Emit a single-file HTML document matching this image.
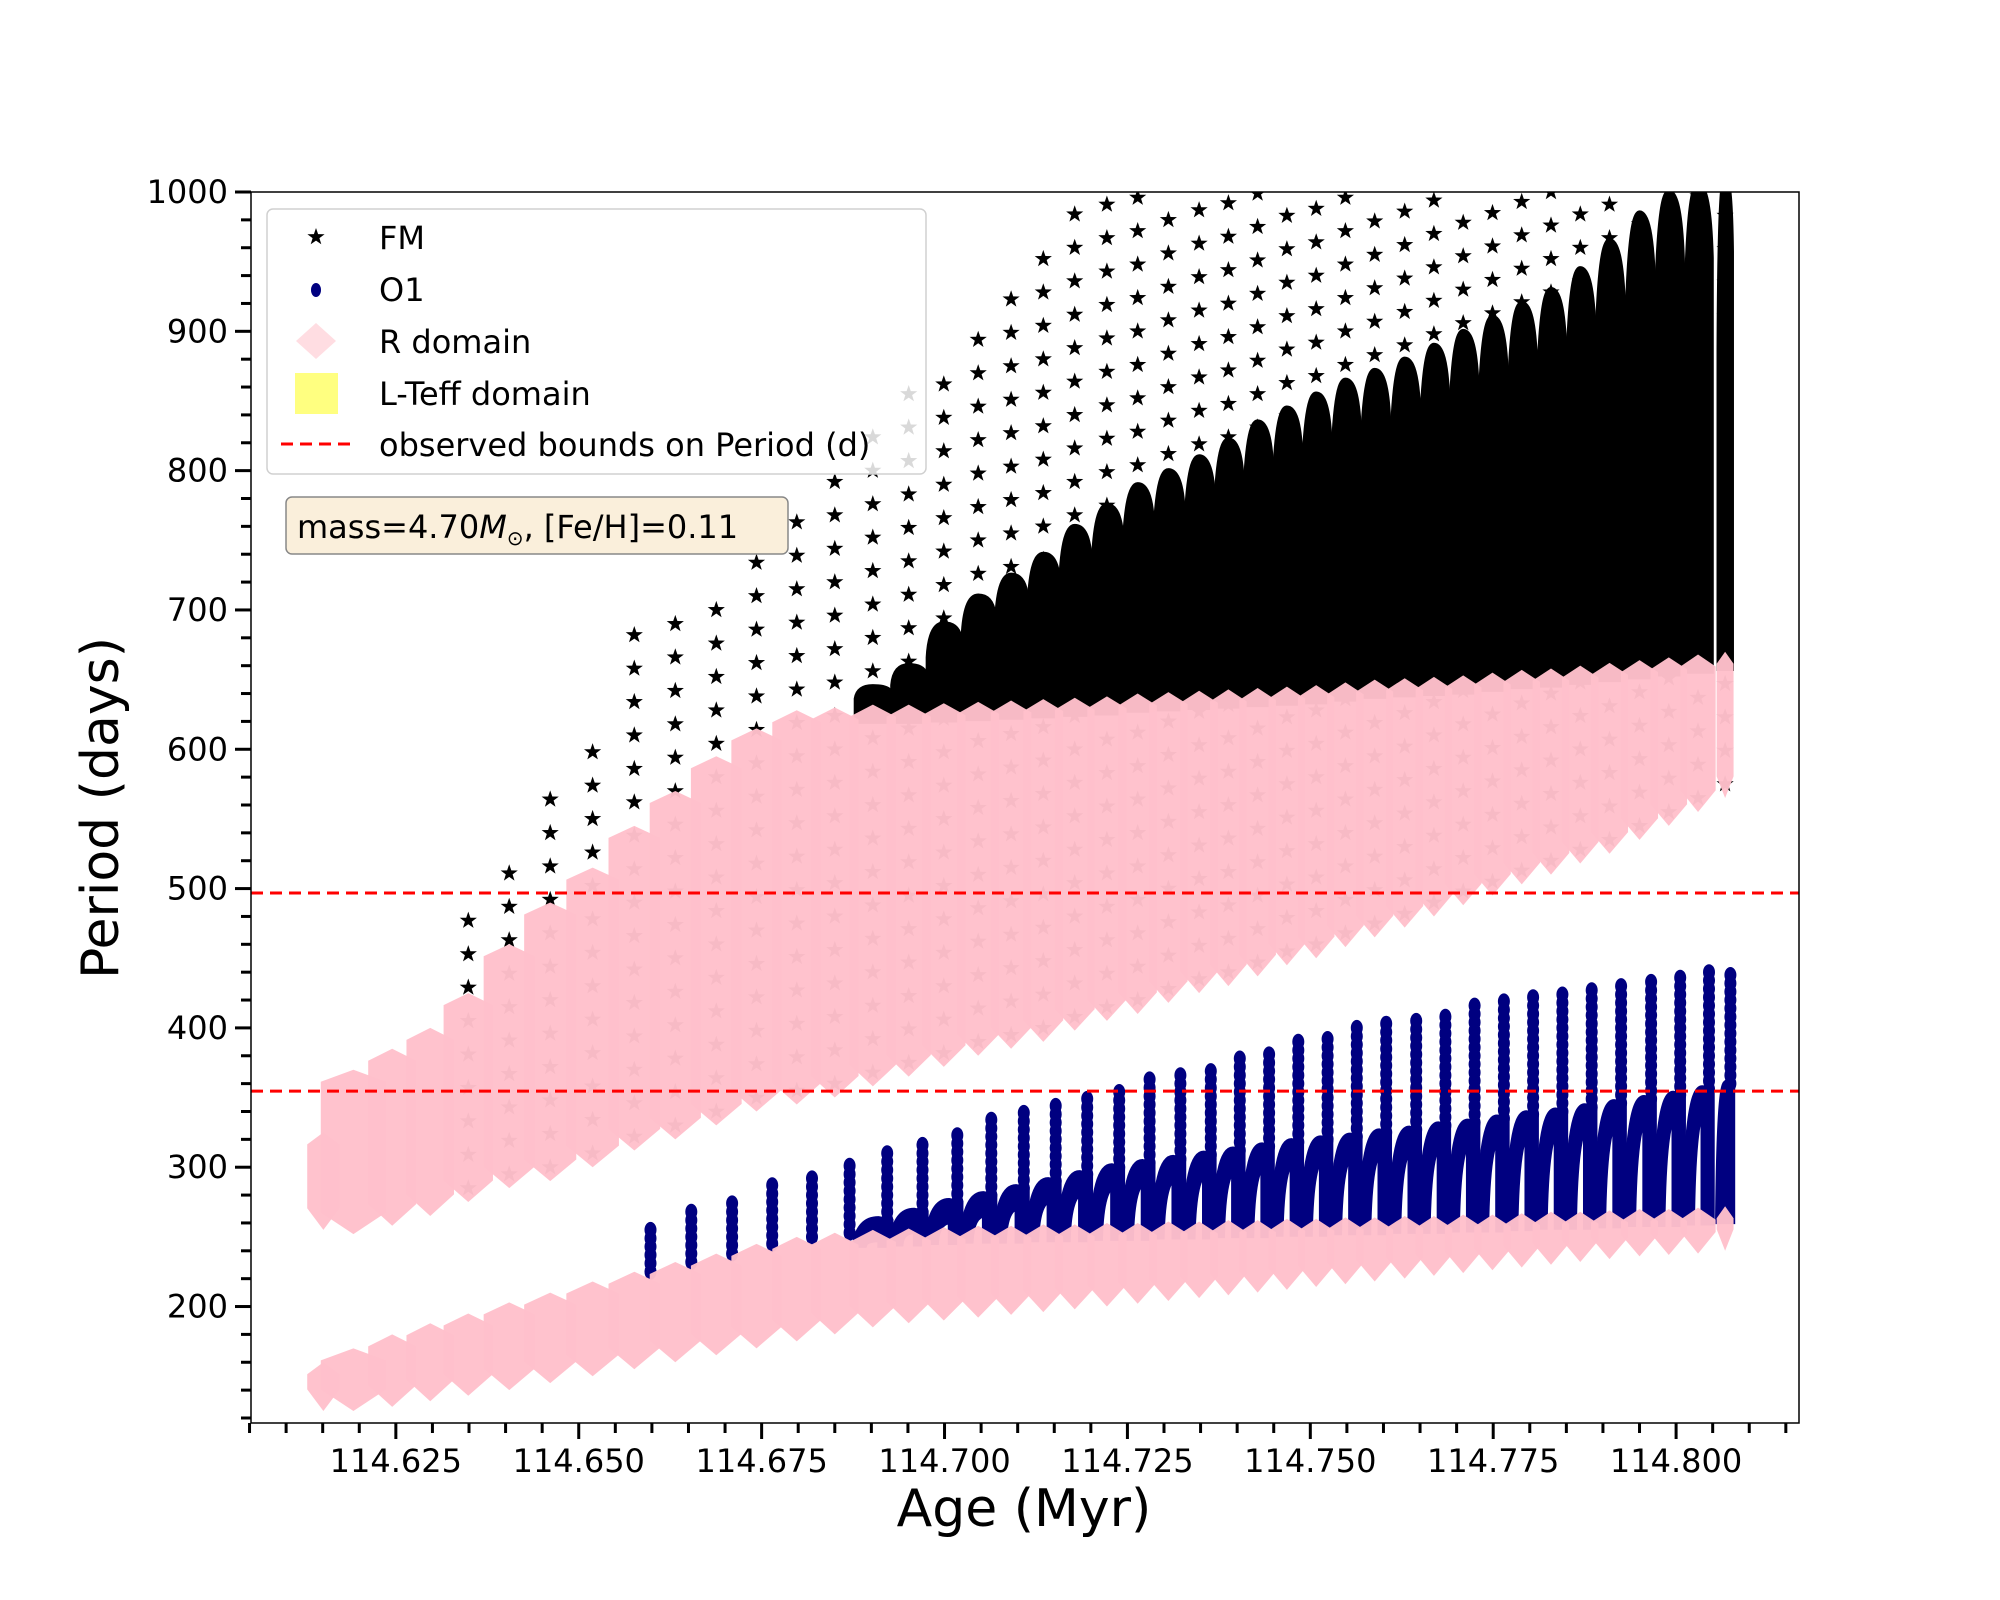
<!DOCTYPE html>
<html><head><meta charset="utf-8">
<style>
html,body{margin:0;padding:0;background:#fff;}
svg{display:block;font-family:"DejaVu Sans","Liberation Sans",sans-serif;}
</style></head>
<body>
<svg id="chart" width="2000" height="1600" viewBox="0 0 2000 1600">
<defs>
<clipPath id="plotclip"><rect x="251" y="192" width="1548" height="1231"/></clipPath>
<path id="star" d="M0,-9 L2.1,-2.9 8.6,-2.8 3.4,1.1 5.3,7.3 0,3.6 -5.3,7.3 -3.4,1.1 -8.6,-2.8 -2.1,-2.9Z"/>
</defs>
<rect x="0" y="0" width="2000" height="1600" fill="#fff"/>
<g id="plot" clip-path="url(#plotclip)"></g>
<g id="axes"></g>
</svg>
<script>
// ---- data ----
const ages = [114.6140,114.6192,114.6245,114.6297,114.6349,114.6405,114.6461,114.6519,114.6576,114.6632,114.6688,114.6743,114.6798,114.6850,114.6902,114.6951,114.6999,114.7046,114.7091,114.7135,114.7178,114.7222,114.7264,114.7306,114.7348,114.7388,114.7428,114.7468,114.7508,114.7548,114.7588,114.7629,114.7669,114.7709,114.7749,114.7789,114.7829,114.7869,114.7909,114.7950,114.7990,114.8030,114.8067];
const rUpperLo = [255,252,258,265,275,285,290,300,312,320,330,340,345,350,358,365,372,380,385,390,398,405,410,418,425,430,437,445,450,458,465,472,480,488,495,503,510,518,525,535,545,555,565];
const rUpperHi = [325,370,385,400,425,460,490,515,545,570,595,615,628,630,632,632,633,634,635,636,637,638,640,641,642,643,644,645,646,648,650,651,652,653,655,657,658,660,662,664,666,668,670];
const rLowerLo = [125,125,128,132,136,140,145,150,155,160,165,170,175,180,185,188,190,192,194,196,198,200,202,204,206,208,210,212,214,216,218,220,222,224,226,228,230,232,234,236,237,238,240];
const rLowerHi = [160,170,180,188,195,203,210,218,225,232,238,245,250,253,255,256,257,258,258,259,259,260,260,261,261,262,262,263,263,264,264,265,265,266,266,267,268,268,269,270,270,271,272];
const fmHigh = [0,0,0,0,0,0,0,0,0,0,0,0,0,0,645,660,690,710,725,740,760,775,790,800,810,822,835,845,855,865,872,880,890,900,910,920,930,945,965,985,1000,1005,1010];
const starHigh = [0,0,0,0,478,525,567,605,685,700,718,745,778,800,830,860,885,912,935,958,985,1000,1010,1010,1010,1010,1010,1010,1010,1010,1010,1010,1010,1010,1010,1010,1010,1010,1010,1010,1010,1010,1010];
const o1High = [0,0,0,0,0,0,0,0,0,0,0,0,0,0,262,268,275,280,285,290,295,300,303,306,309,312,315,318,320,322,325,327,330,332,335,338,340,343,346,349,352,356,360];
const o1Spike = [0,0,0,0,0,0,0,0,258,270,279,289,296,305,310,320,327,337,343,348,353,359,363,368,374,380,385,390,395,400,404,408,412,416,420,423,427,430,433,436,439,441,443];
const boundsP = [496.8, 354.6];
const xTicks = [114.625,114.650,114.675,114.700,114.725,114.750,114.775,114.800];
const xTickLabels = ["114.625","114.650","114.675","114.700","114.725","114.750","114.775","114.800"];
const yTicks = [200,300,400,500,600,700,800,900,1000];

// ---- axes functions ----
const X0=251,X1=1799,Y0=192,Y1=1423;
const xmin=114.6052,xmax=114.8168,ymin=116.4,ymax=1000;
const sx=a=>X0+(a-xmin)/(xmax-xmin)*(X1-X0);
const sy=v=>Y1-(v-ymin)/(ymax-ymin)*(Y1-Y0);
const NS="http://www.w3.org/2000/svg";
function mk(tag,attrs,parent){const e=document.createElementNS(NS,tag);for(const k in attrs)e.setAttribute(k,attrs[k]);parent.appendChild(e);return e;}
const plot=document.getElementById('plot');
const axes=document.getElementById('axes');

function spacing(i){const a=ages[Math.min(i+1,ages.length-1)],b=ages[Math.max(i-1,0)];return (sx(a)-sx(b))/2||30;}

// stars (FM sparse)
const gStars=mk('g',{},plot);


ages.forEach((a,i)=>{
  if(!starHigh[i])return;
  const x=sx(a);
  for(let v=rUpperLo[i]+10;v<=Math.min(starHigh[i],1000);v+=24){
    const u=mk('use',{href:'#star',x:x.toFixed(1),y:sy(v).toFixed(1),fill:'#000'},gStars);
    
    
  }
});

// FM loops
const gFM=mk('g',{},plot);


ages.forEach((a,i)=>{
  if(!fmHigh[i])return;
  const w=spacing(i), x0=sx(a)-w*0.45, lo=sy(rUpperHi[i]-12), hi=sy(Math.min(fmHigh[i],1010));
  const h=lo-hi;
  const d=`M${x0},${lo} L${x0},${hi+h*0.35} Q${x0+w*0.05},${hi} ${x0+w*0.45},${hi} Q${x0+w*0.85},${hi} ${x0+w*0.92},${hi+h*0.15} L${x0+w*0.92},${lo} Z`;
  const p=mk('path',{d:d,fill:'#000',stroke:'#000','stroke-width':5},gFM);
  
  
});

// O1 loops
const gO1=mk('g',{},plot);


ages.forEach((a,i)=>{
  const w=spacing(i), x0=sx(a)-w*0.45;
  if(o1High[i]){
    const lo=sy(rLowerHi[i]-10), hi=sy(o1High[i]);
    const d=`M${x0},${lo} Q${x0+w*0.1},${hi} ${x0+w*0.6},${hi} L${x0+w*0.9},${hi+2} L${x0+w*0.9},${lo} L${x0+w*0.68},${lo} L${x0+w*0.68},${hi+18} Q${x0+w*0.25},${hi+18} ${x0+w*0.2},${lo} Z`;
    const p=mk('path',{d:d,fill:'#000080',stroke:'#000080','stroke-width':8},gO1);
    
    
  }
  if(o1Spike[i]){
    const xs=x0+w*0.84;
    for(let v=(o1High[i]||rLowerHi[i]);v<=o1Spike[i];v+=6){
      const c=mk('ellipse',{cx:xs.toFixed(1),cy:sy(v).toFixed(1),rx:6,ry:8,fill:'#000080'},gO1);
      
      
    }
  }
});

// R domain pink columns
const gR=mk('g',{},plot);


function col(x,w,lo,hi){
  const d=12;
  return `M${x-w/2},${hi+d} L${x},${hi} L${x+w/2},${hi+d} L${x+w/2},${lo-d*1.8} L${x},${lo} L${x-w/2},${lo-d*1.8} Z`;
}
ages.forEach((a,i)=>{
  const w=spacing(i)*(i<2?1.7:1.25), x=sx(a)+(i===0?8:0);
  const p1=mk('path',{d:col(x,w,sy(rUpperLo[i]),sy(rUpperHi[i])),fill:'#ffc0cb','fill-opacity':0.97},gR);
  
  
  const p2=mk('path',{d:col(x,w,sy(rLowerLo[i]),sy(rLowerHi[i])),fill:'#ffc0cb','fill-opacity':0.97},gR);
  
  
});

// bounds lines
boundsP.forEach(v=>{
  const l=mk('line',{x1:X0,x2:X1,y1:sy(v),y2:sy(v),stroke:'#ff0000','stroke-width':3,'stroke-dasharray':'12,7'},plot);
  
  
});

// frame
const fr=mk('rect',{x:X0,y:Y0,width:X1-X0,height:Y1-Y0,fill:'none',stroke:'#000','stroke-width':1.5},axes);



// x ticks
for(let k=0;k<=42;k++){
  const a=114.605+k*0.005; if(a>xmax)break;
  const major=xTicks.some(t=>Math.abs(t-a)<1e-6);
  const x=sx(a);
  const t=mk('line',{x1:x,x2:x,y1:Y1,y2:Y1+(major?16:10),stroke:'#000','stroke-width':3},axes);
  
  
}
xTicks.forEach((a,i)=>{
  const t=mk('text',{x:sx(a),y:1472,'font-size':32,'text-anchor':'middle',fill:'#000'},axes);
  t.textContent=xTickLabels[i];
  
  
});
// y ticks
for(let v=120;v<=1000;v+=20){
  const major=v%100===0, y=sy(v);
  const t=mk('line',{x1:X0-(major?16:10),x2:X0,y1:y,y2:y,stroke:'#000','stroke-width':3},axes);
  
  
}
yTicks.forEach(v=>{
  const t=mk('text',{x:228,y:sy(v)+11,'font-size':32,'text-anchor':'end',fill:'#000'},axes);
  t.textContent=String(v);
  
  
});
</script>
<div style="position:absolute;left:0;top:0;width:2000px;height:1600px;pointer-events:none">
<svg width="2000" height="1600" style="position:absolute;left:0;top:0;font-family:'DejaVu Sans','Liberation Sans',sans-serif">
<defs><path id="star2" d="M0,-9 L2.1,-2.9 8.6,-2.8 3.4,1.1 5.3,7.3 0,3.6 -5.3,7.3 -3.4,1.1 -8.6,-2.8 -2.1,-2.9Z"/></defs>
<text x="1024" y="1526" font-size="52" text-anchor="middle">Age (Myr)</text>
<text transform="translate(118,808) rotate(-90)" font-size="52" text-anchor="middle">Period (days)</text>
<g>
<rect x="267" y="209" width="659" height="265" rx="6" fill="#fff" fill-opacity="0.85" stroke="#d0d0d0" stroke-width="1.5"/>
<use href="#star2" x="316" y="237" fill="#000"/>
<text x="379" y="249" font-size="32">FM</text>
<ellipse cx="316" cy="290" rx="5" ry="7" fill="#000080"/>
<text x="379" y="301" font-size="32">O1</text>
<path d="M316,323 L336,341 L316,359 L296,341 Z" fill="#ffdde2"/>
<text x="379" y="353" font-size="32">R domain</text>
<rect x="295" y="373" width="43" height="41" fill="#ffff80"/>
<text x="379" y="405" font-size="32">L-Teff domain</text>
<line x1="281" x2="350" y1="444" y2="444" stroke="#ff0000" stroke-width="3" stroke-dasharray="12,7"/>
<text x="379" y="456" font-size="32">observed bounds on Period (d)</text>
</g>
<g>
<rect x="286" y="497" width="502" height="57" rx="6" fill="#faefdb" stroke="#888" stroke-width="1.5"/>
<text x="297" y="538" font-size="32">mass=4.70<tspan font-style="italic">M</tspan><tspan font-size="20" dy="7">⊙</tspan><tspan dy="-7">, [Fe/H]=0.11</tspan></text>
</g>
</svg>
</div>
</body></html>
